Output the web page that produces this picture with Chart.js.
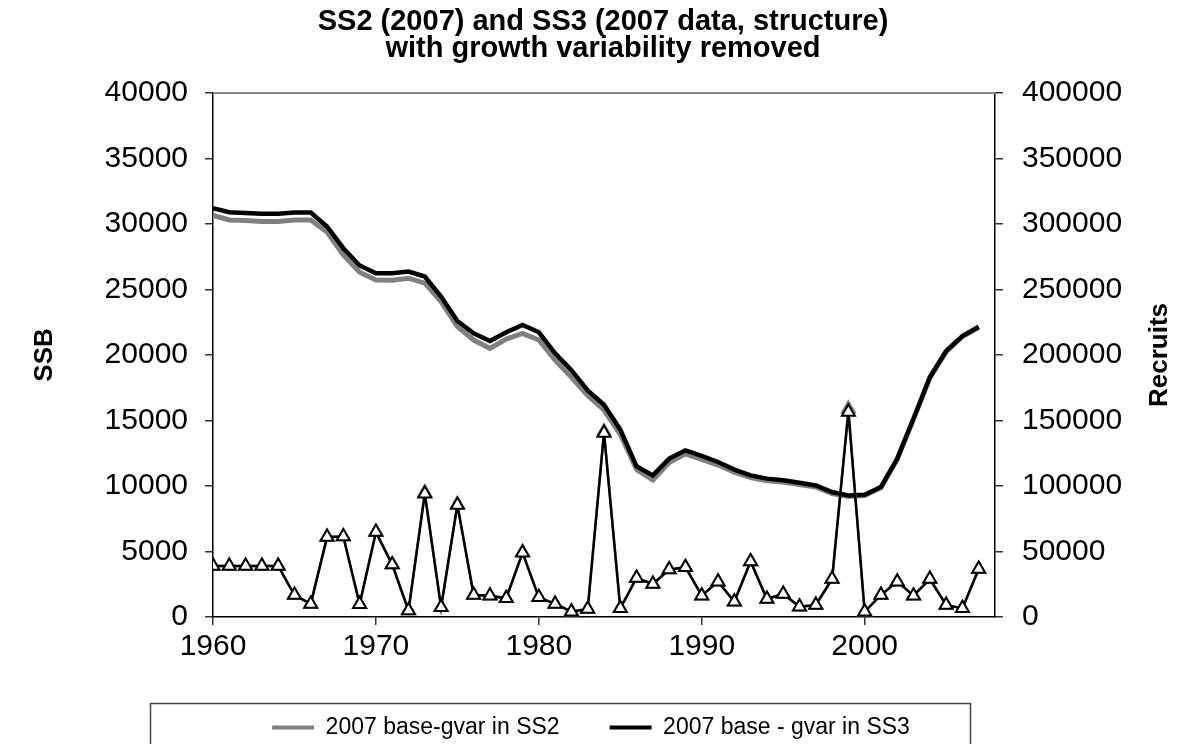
<!DOCTYPE html>
<html>
<head>
<meta charset="utf-8">
<script src="https://cdn.jsdelivr.net/npm/chart.js@4/dist/chart.umd.min.js"></script>
<style>
  html, body { margin: 0; padding: 0; background: #fff; }
  #wrap { width: 1182px; height: 744px; position: relative; }
</style>
</head>
<body>
<div id="wrap"><canvas id="chart"></canvas></div>
<script>
const years = [1960,1961,1962,1963,1964,1965,1966,1967,1968,1969,1970,1971,1972,1973,1974,1975,1976,1977,1978,1979,
  1980,1981,1982,1983,1984,1985,1986,1987,1988,1989,1990,1991,1992,1993,1994,1995,1996,1997,1998,1999,
  2000,2001,2002,2003,2004,2005,2006,2007];

const ssbSS2 = [30650,30300,30270,30190,30190,30300,30300,29380,27640,26320,25730,25700,25860,25480,24070,22160,21140,20500,21210,21650,
  21140,19610,18300,16900,15800,13950,11250,10450,11780,12450,12030,11600,11050,10650,10400,10300,10120,9920,9420,9200,
  9280,9880,12050,15100,18250,20250,21400,22100];

const ssbSS3 = [31200,30900,30830,30780,30780,30880,30880,29810,28150,26830,26240,26240,26370,25990,24460,22590,21650,21060,21730,22290,
  21730,20120,18840,17300,16200,14300,11500,10810,12090,12720,12290,11830,11250,10810,10560,10430,10250,10040,9540,9280,
  9330,9920,12090,15150,18300,20300,21450,22150];

const recSS2 = [39000,39000,39000,39000,39000,16800,10000,61000,61500,9700,64800,40000,4900,95000,7400,86000,16800,16300,14300,49500,
  15000,10000,4100,6100,141500,6600,29800,25200,36200,38000,16300,27000,11700,42300,13800,17600,7900,9200,29000,159000,
  4000,16800,27000,16300,29000,9200,6600,36700];

const recSS3 = [39000,39000,39000,39000,39000,16800,10000,61000,61500,9700,64800,40000,4900,94000,7400,85500,16800,16300,14300,49000,
  15000,10000,4100,6100,140500,6600,29800,25200,36200,38000,16300,27000,11700,42300,13800,17600,7900,9200,29000,156500,
  4000,16800,27000,16300,29000,9200,6600,36700];

const ssbTicks = [0,5000,10000,15000,20000,25000,30000,35000,40000];
const recTicks = [0,50000,100000,150000,200000,250000,300000,350000,400000];
const yearTicks = [1960,1970,1980,1990,2000];

const FONT = "'Liberation Sans', Arial, sans-serif";
const pts = (vals) => years.map((yr, i) => ({ x: yr, y: vals[i] }));

const frame = {
  id: 'frame',
  afterLayout(chart) {
    // centre the title over the plot rather than the canvas
    if (chart.titleBlock) chart.titleBlock.left += 24;
  },
  afterDraw(chart) {
    const { ctx, chartArea: a } = chart;
    ctx.save();
    ctx.strokeStyle = '#888';
    ctx.lineWidth = 2;
    ctx.beginPath();
    ctx.moveTo(a.left, a.top);
    ctx.lineTo(a.right, a.top);
    ctx.stroke();
    // legend box
    ctx.strokeStyle = '#444';
    ctx.lineWidth = 1.5;
    ctx.strokeRect(150.5, 703.5, 820, 60);
    // right axis title, reads bottom to top like the left one
    ctx.fillStyle = '#000';
    ctx.font = 'bold 26px ' + FONT;
    ctx.textAlign = 'center';
    ctx.textBaseline = 'middle';
    ctx.translate(1160, (a.top + a.bottom) / 2);
    ctx.rotate(-Math.PI / 2);
    ctx.fillText('Recruits', 0, 0);
    ctx.restore();
  }
};

const axisGrid = { drawOnChartArea: false, drawTicks: true, tickLength: 8, color: '#333', lineWidth: 1.5 };
const axisBorder = { display: true, color: '#000', width: 1.5 };
const tickFont = { family: FONT, size: 30 };

new Chart(document.getElementById('chart'), {
  type: 'line',
  data: {
    datasets: [
      { label: '2007 base-gvar in SS2', data: pts(ssbSS2), yAxisID: 'y', borderColor: '#808080', backgroundColor: '#808080', borderWidth: 5, pointRadius: 0, order: 3 },
      { label: '2007 base - gvar in SS3', data: pts(ssbSS3), yAxisID: 'y', borderColor: '#000', backgroundColor: '#000', borderWidth: 4.5, pointRadius: 0, order: 2 },
      { label: 'Recruits SS2', data: pts(recSS2), yAxisID: 'y1', borderColor: '#808080', borderWidth: 2.5, pointStyle: 'triangle', pointRadius: 7.5, pointBorderWidth: 2, pointBorderColor: '#808080', pointBackgroundColor: '#fff', order: 1 },
      { label: 'Recruits SS3', data: pts(recSS3), yAxisID: 'y1', borderColor: '#000', borderWidth: 2.5, pointStyle: 'triangle', pointRadius: 7.5, pointBorderWidth: 2, pointBorderColor: '#000', pointBackgroundColor: '#fff', order: 0 }
    ]
  },
  options: {
    responsive: true,
    maintainAspectRatio: false,
    animation: false,
    layout: { padding: { left: 0, right: 0, top: 0, bottom: -5 } },
    elements: { line: { tension: 0 } },
    plugins: {
      title: {
        display: true,
        text: ['SS2 (2007) and SS3 (2007 data, structure)', 'with growth variability removed'],
        color: '#000',
        font: { family: FONT, size: 29, weight: 'bold', lineHeight: 0.93 },
        padding: { top: 9, bottom: 30 }
      },
      legend: {
        position: 'bottom',
        labels: {
          color: '#000',
          font: { family: FONT, size: 23 },
          boxWidth: 42,
          boxHeight: 4,
          padding: 50,
          sort: (a, b) => a.datasetIndex - b.datasetIndex,
          filter: (item) => item.datasetIndex < 2,
          generateLabels: (chart) => Chart.defaults.plugins.legend.labels.generateLabels(chart).map((l) => ({ ...l, lineWidth: 0 }))
        }
      },
      tooltip: { enabled: false }
    },
    scales: {
      x: {
        type: 'linear',
        min: 1960,
        max: 2008,
        afterBuildTicks: (s) => { s.ticks = yearTicks.map((v) => ({ value: v })); },
        afterFit: (s) => { s.height = 49; },
        ticks: { color: '#000', font: tickFont, padding: 4, callback: (v) => String(v), maxRotation: 0 },
        grid: axisGrid,
        border: axisBorder
      },
      y: {
        position: 'left',
        min: 0,
        max: 40000,
        afterBuildTicks: (s) => { s.ticks = ssbTicks.map((v) => ({ value: v })); },
        afterFit: (s) => { s.width = 213; },
        ticks: { color: '#000', font: tickFont, padding: 17, callback: (v) => String(v) },
        title: { display: true, text: 'SSB', color: '#000', font: { family: FONT, size: 26, weight: 'bold' }, padding: { top: 29, bottom: 0 } },
        grid: axisGrid,
        border: axisBorder
      },
      y1: {
        position: 'right',
        min: 0,
        max: 400000,
        afterBuildTicks: (s) => { s.ticks = recTicks.map((v) => ({ value: v })); },
        afterFit: (s) => { s.width = 187; },
        ticks: { color: '#000', font: tickFont, padding: 19, callback: (v) => String(v) },
        grid: axisGrid,
        border: axisBorder
      }
    }
  },
  plugins: [frame]
});
</script>
</body>
</html>
